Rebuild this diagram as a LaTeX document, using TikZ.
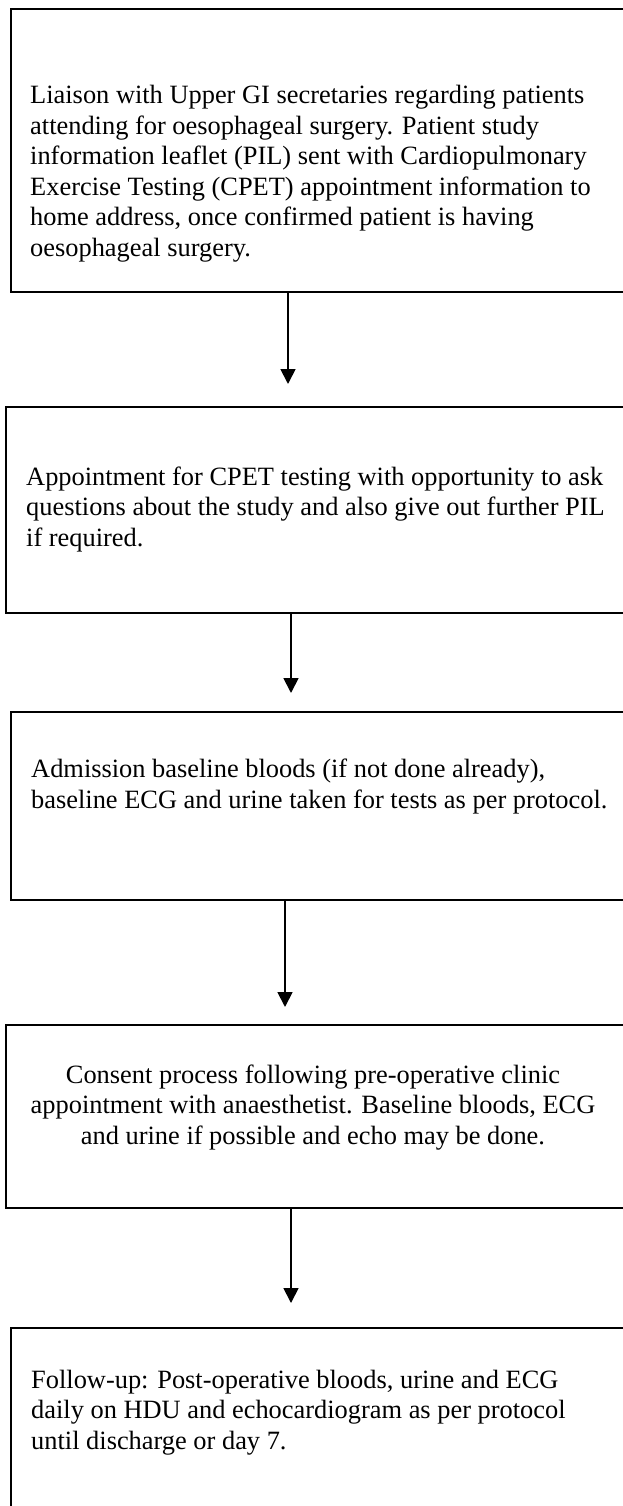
\documentclass[tikz,border=0pt]{standalone}
\usepackage{fontspec}
\setmainfont{Liberation Serif}
\usetikzlibrary{arrows.meta}
\begin{document}
\begin{tikzpicture}[x=1pt,y=-1pt,
  stage/.style={draw=black, line width=1.8pt, rectangle, inner sep=0pt, anchor=north west},
  body/.style={font=\fontsize{26.4}{30.4}\selectfont, inner sep=0pt, anchor=base west, align=left},
  flow/.style={line width=1.8pt, -{Triangle[width=15pt,length=15pt]}}]
\useasboundingbox[fill=white] (0,0) rectangle (623,1506);

% stage frames (right edges run off the page)
\node[stage, minimum width=620pt, minimum height=283pt] (s1) at (10,8) {};
\node[stage, minimum width=625pt, minimum height=206pt] (s2) at (5,406) {};
\node[stage, minimum width=620pt, minimum height=188pt] (s3) at (10,711) {};
\node[stage, minimum width=625pt, minimum height=183pt] (s4) at (5,1024) {};
\node[stage, minimum width=620pt, minimum height=200pt] (s5) at (10,1327) {};

% stage texts, placed by the baseline of their last line
\node[body] (t1) at (30,256) {Liaison with Upper GI secretaries regarding patients\\
attending for oesophageal surgery. Patient study\\
information leaflet (PIL) sent with Cardiopulmonary\\
Exercise Testing (CPET) appointment information to\\
home address, once confirmed patient is having\\
oesophageal surgery.};
\node[body] (t2) at (26,546) {Appointment for CPET testing with opportunity to ask\\
questions about the study and also give out further PIL\\
if required.};
\node[body] (t3) at (31,808) {Admission baseline bloods (if not done already),\\
baseline ECG and urine taken for tests as per protocol.};
\node[body, anchor=base, align=center] (t4) at (313,1144) {Consent process following pre-operative clinic\\
appointment with anaesthetist. Baseline bloods, ECG\\
and urine if possible and echo may be done.};
\node[body] (t5) at (31,1449) {Follow-up: Post-operative bloods, urine and ECG\\
daily on HDU and echocardiogram as per protocol\\
until discharge or day 7.};

% connectors
\draw[flow, shorten >=22pt] ([xshift=278pt]s1.south west) -- ([xshift=283pt]s2.north west);
\draw[flow, shorten >=18pt] ([xshift=286pt]s2.south west) -- ([xshift=281pt]s3.north west);
\draw[flow, shorten >=17pt] ([xshift=275pt]s3.south west) -- ([xshift=280pt]s4.north west);
\draw[flow, shorten >=24pt] ([xshift=286pt]s4.south west) -- ([xshift=281pt]s5.north west);
\end{tikzpicture}
\end{document}
